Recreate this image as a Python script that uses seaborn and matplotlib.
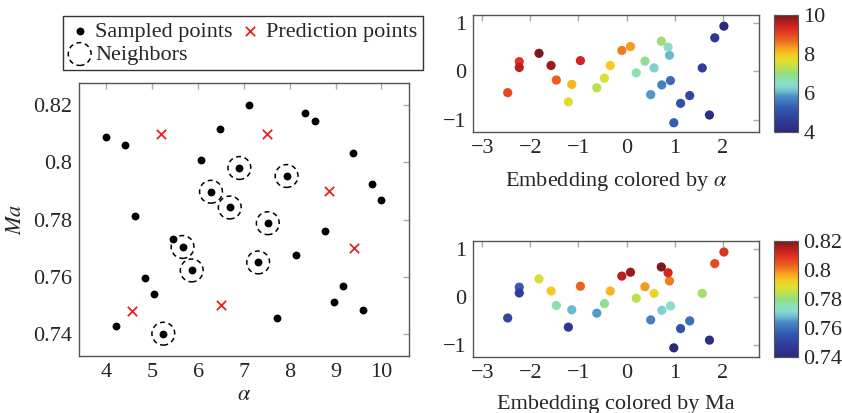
import numpy as np
import pandas as pd
import seaborn as sns
import matplotlib.pyplot as plt
from matplotlib.colors import LinearSegmentedColormap, Normalize
from matplotlib.cm import ScalarMappable

# Sampled design points (alpha, Ma)
sampled_alpha = [4.00, 4.21, 4.41, 4.62, 4.83, 5.03, 5.24, 5.45, 5.66, 5.86,
                 6.07, 6.28, 6.48, 6.69, 6.90, 7.10, 7.31, 7.52, 7.72, 7.93,
                 8.14, 8.34, 8.55, 8.76, 8.97, 9.17, 9.38, 9.59, 9.79, 10.00]
sampled_ma = [0.8089, 0.7428, 0.8062, 0.7814, 0.7594, 0.7538, 0.7401, 0.7731, 0.7704, 0.7622,
              0.8008, 0.7897, 0.8117, 0.7842, 0.7980, 0.8200, 0.7650, 0.7787, 0.7455, 0.7952,
              0.7676, 0.8172, 0.8145, 0.7759, 0.7511, 0.7566, 0.8034, 0.7483, 0.7925, 0.7869]

# 2-D embedding of the same points (same order as above)
emb_x = [2.02, 1.72, 1.83, 1.57, 1.31, 1.12, 0.98, 0.91, 0.73, 0.50,
         0.89, 0.57, 0.86, 0.20, 0.38, 0.72, -0.62, -0.46, -1.21, -0.34,
         -1.14, 0.08, -0.10, -1.46, -2.47, -2.23, -0.96, -2.23, -1.57, -1.82]
emb_y = [0.93, -0.90, 0.69, 0.07, -0.50, -0.66, -1.06, -0.19, -0.28, -0.48,
         0.33, 0.07, 0.50, -0.03, 0.21, 0.62, -0.34, -0.14, -0.63, 0.12,
         -0.27, 0.51, 0.43, -0.18, -0.44, 0.20, 0.22, 0.08, 0.12, 0.37]

# Points to predict
pred_alpha = [5.20, 7.50, 8.85, 9.41, 6.50, 4.56]
pred_ma = [0.810, 0.810, 0.790, 0.770, 0.750, 0.748]

# Neighbors (circled sampled points)
neigh_alpha = [5.24, 5.66, 5.86, 6.28, 6.69, 6.90, 7.31, 7.52, 7.93]
neigh_ma = [0.7401, 0.7704, 0.7622, 0.7897, 0.7842, 0.7980, 0.7650, 0.7787, 0.7952]

sns.set_style('white')
plt.rcParams['font.family'] = ['Liberation Serif', 'DejaVu Serif']
plt.rcParams['mathtext.fontset'] = 'stix'
plt.rcParams['font.size'] = 16

# colormap sampled from the colorbar
cmap = LinearSegmentedColormap.from_list('emb', [
    (0.0, '#2b2a7a'), (0.1, '#2f3d9c'), (0.2, '#3458ae'), (0.3, '#4a8cc6'),
    (0.35, '#70bfd0'), (0.4, '#8adcd0'), (0.45, '#8ee0b0'), (0.5, '#94dc80'),
    (0.55, '#b8e050'), (0.6, '#e0e030'), (0.667, '#f5c820'), (0.72, '#f5a020'),
    (0.78, '#ee6a20'), (0.85, '#e33a20'), (0.92, '#c62020'), (1.0, '#7a1a1a')])

fig = plt.figure(figsize=(8.42, 4.13), dpi=100)
ax = fig.add_axes([0.0938, 0.138, 0.3919, 0.661])
ax_a = fig.add_axes([0.5618, 0.6804, 0.3397, 0.2833])
ax_m = fig.add_axes([0.5618, 0.1356, 0.3397, 0.281])
cax_a = fig.add_axes([0.9192, 0.6804, 0.0285, 0.2833])
cax_m = fig.add_axes([0.9192, 0.1356, 0.0285, 0.281])


def style_axes(a):
    a.tick_params(direction='in', top=True, right=True, length=4, width=1,
                  color='#aaaaaa', pad=5, labelsize=16)
    for s in a.spines.values():
        s.set_color('#555555')
        s.set_linewidth(1)


# Left panel
sns.scatterplot(x=sampled_alpha, y=sampled_ma, color='black', s=32, linewidth=0,
                label='Sampled points', ax=ax, zorder=3)
sns.scatterplot(x=neigh_alpha, y=neigh_ma, marker='o', s=270, facecolor='none',
                edgecolor='black', linewidth=1.1, linestyle=(0, (3.2, 2.4)),
                label='Neighbors', ax=ax, zorder=2)
sns.scatterplot(x=pred_alpha, y=pred_ma, marker='x', color='#e8231f', s=45,
                linewidth=1.3, label='Prediction points', ax=ax, zorder=3)
ax.set_xlim(3.4, 10.6)
ax.set_ylim(0.7323, 0.8277)
ax.set_xticks([4, 5, 6, 7, 8, 9, 10])
ax.set_yticks([0.74, 0.76, 0.78, 0.80, 0.82])
ax.set_yticklabels(['0.74', '0.76', '0.78', '0.8', '0.82'])
ax.set_xlabel(r'$\alpha$', labelpad=3)
ax.set_ylabel(r'$Ma$', labelpad=5)
style_axes(ax)

handles, labels = ax.get_legend_handles_labels()
order = [labels.index(l) for l in ['Sampled points', 'Neighbors', 'Prediction points']]
leg = ax.legend([handles[i] for i in order], [labels[i] for i in order], ncol=2,
                loc='upper left', bbox_to_anchor=(63 / 842, 1 - 16 / 413),
                bbox_transform=fig.transFigure, frameon=True, fancybox=False,
                edgecolor='black', borderpad=0.25, handletextpad=0.2,
                columnspacing=0.3, labelspacing=0.1, handlelength=1.0,
                borderaxespad=0, fontsize=16)
leg.get_frame().set_linewidth(1)

# Embedding panels
for a, c, vals, norm_rng, title, ticks, tlabels in [
        (ax_a, cax_a, sampled_alpha, (4, 10), r'Embedding colored by $\alpha$',
         [4, 6, 8, 10], ['4', '6', '8', '10']),
        (ax_m, cax_m, sampled_ma, (0.74, 0.82), 'Embedding colored by Ma',
         [0.74, 0.76, 0.78, 0.80, 0.82], ['0.74', '0.76', '0.78', '0.8', '0.82'])]:
    df = pd.DataFrame({'x': emb_x, 'y': emb_y, 'v': vals})
    sns.scatterplot(data=df, x='x', y='y', hue='v', palette=cmap, hue_norm=norm_rng,
                    s=44, linewidth=0, legend=False, ax=a)
    a.set_xlim(-3.19, 2.75)
    a.set_ylim(-1.25, 1.16)
    a.set_xticks([-3, -2, -1, 0, 1, 2])
    a.set_yticks([-1, 0, 1])
    a.set_xlabel(title, labelpad=9)
    a.set_ylabel('')
    style_axes(a)

    sm = ScalarMappable(norm=Normalize(*norm_rng), cmap=cmap)
    cb = fig.colorbar(sm, cax=c)
    cb.set_ticks(ticks)
    cb.set_ticklabels(tlabels)
    cb.outline.set_edgecolor('#555555')
    c.tick_params(direction='in', length=4, width=1, color='#aaaaaa',
                  left=True, right=True, labelsize=16, pad=4)

fig.savefig('out.png', dpi=100)
